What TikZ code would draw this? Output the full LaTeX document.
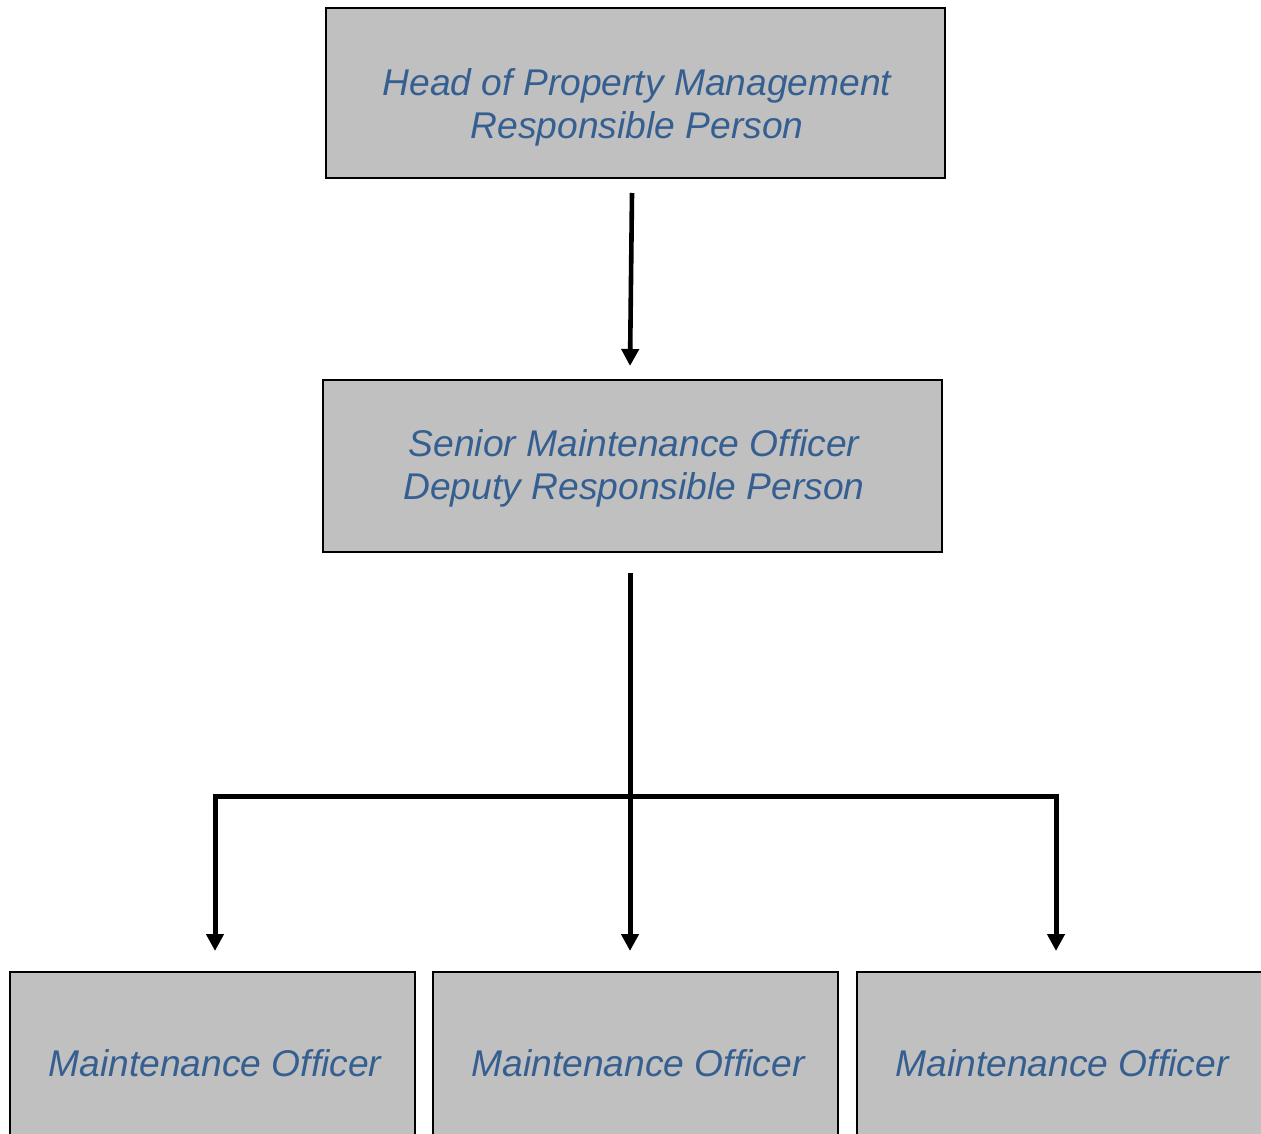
\documentclass[tikz,border=0pt]{standalone}
\usepackage{fontspec}
\setmainfont{Liberation Sans}
\usetikzlibrary{arrows.meta}
\definecolor{boxfill}{HTML}{C0C0C0}
\definecolor{txtblue}{HTML}{365F91}
\tikzset{
  box/.style={draw=black, line width=0.9pt, fill=boxfill, inner sep=0pt, anchor=north west},
  lbl/.style={text=txtblue, font=\fontsize{18.6}{21.5}\selectfont\itshape, align=center, inner sep=0pt},
  conn/.style={line width=2.5pt, line join=miter, -{Triangle[width=8.5pt,length=8.5pt]}},
}
\begin{document}
\begin{tikzpicture}[x=0.5pt, y=-0.5pt]
\clip (0,0) rectangle (1261,1133);
\useasboundingbox (0,0) rectangle (1261,1133);
% boxes
\node[box, minimum width=309.5pt, minimum height=85pt] (top) at (325,7) {};
\node[lbl] (toptxt) at (637,107) {Head of Property Management\\Responsible Person};
\node[box, minimum width=309.5pt, minimum height=86pt] (mid) at (322,379) {};
\node[lbl] (midtxt) at (634,468) {Senior Maintenance Officer\\Deputy Responsible Person};
\node[box, minimum width=202.5pt, minimum height=95pt] (b1) at (9,971) {};
\node[lbl] (b1txt) at (215,1063) {Maintenance Officer};
\node[box, minimum width=202.5pt, minimum height=95pt] (b2) at (432,971) {};
\node[lbl] (b2txt) at (638,1063) {Maintenance Officer};
\node[box, minimum width=202.5pt, minimum height=95pt] (b3) at (856,971) {};
\node[lbl] (b3txt) at (1062,1063) {Maintenance Officer};
% connector coordinates
\coordinate (a1) at (632,193);
\coordinate (a2) at (630,366);
\coordinate (s) at (630,573);
\coordinate (j) at (630,796);
\coordinate (e1) at (215,951);
\coordinate (e2) at (630,951);
\coordinate (e3) at (1056,951);
\draw[conn, line width=2.3pt] (a1) -- (a2);
\draw[conn] (s) -- (e2);
\draw[conn] (j) -| (e1);
\draw[conn] (j) -| (e3);
\end{tikzpicture}
\end{document}
